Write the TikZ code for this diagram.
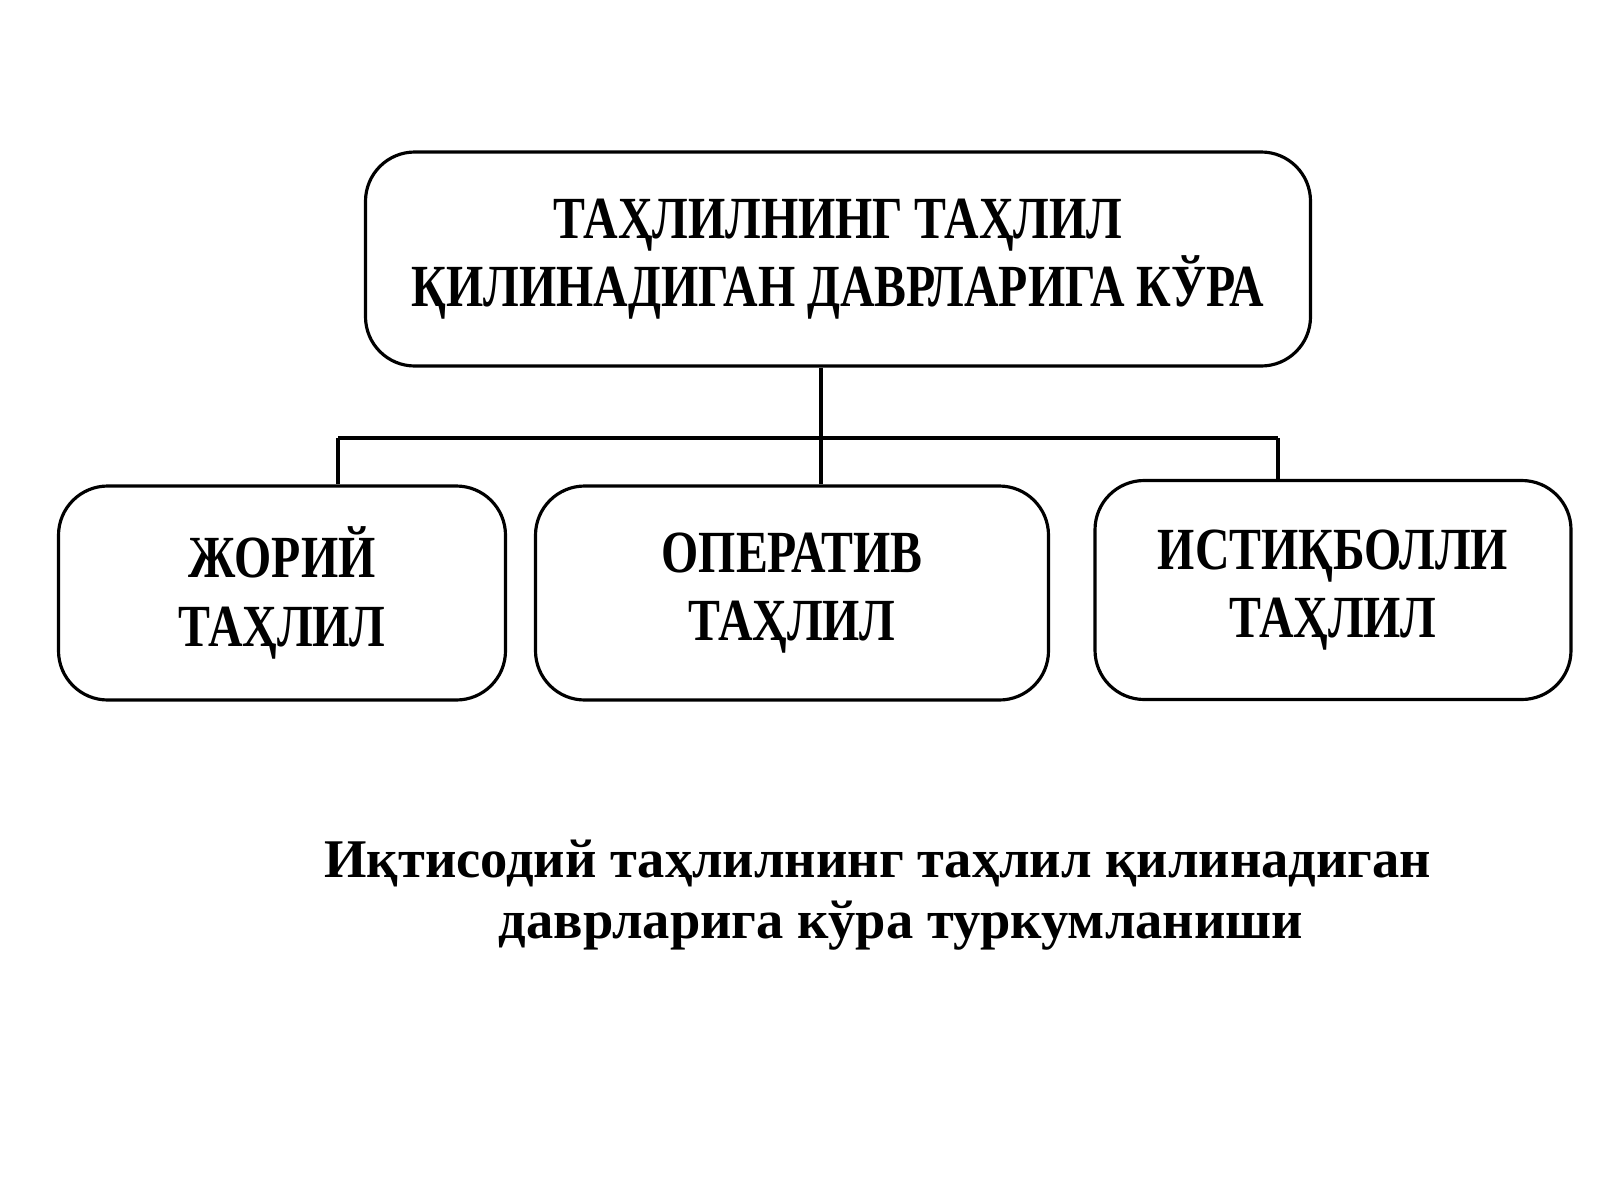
\documentclass[tikz,border=0pt]{standalone}
\usepackage{fontspec}
\setmainfont{Liberation Serif}
\newfontfamily\narrowfont[FakeStretch=0.8]{Liberation Serif}
\usetikzlibrary{positioning}
\begin{document}
\begin{tikzpicture}[x=0.01cm,y=-0.01cm,thick,
	box/.style={draw,rounded corners=14pt,line width=0.9pt,align=center,
		font=\narrowfont\bfseries\fontsize{17}{19.5}\selectfont},
	link/.style={line width=0.9pt}]
	\useasboundingbox (0,0) rectangle (1600,1200);
	%boxes
	\node[box,minimum width=945*0.01cm,minimum height=214*0.01cm] (top) at (838,259) {ТАҲЛИЛНИНГ ТАҲЛИЛ\\ҚИЛИНАДИГАН ДАВРЛАРИГА КЎРА};
	\node[box,minimum width=447*0.01cm,minimum height=214*0.01cm] (cur) at (282,593) {ЖОРИЙ\\ТАҲЛИЛ};
	\node[box,minimum width=513*0.01cm,minimum height=214*0.01cm] (oper) at (792,593) {ОПЕРАТИВ\\ТАҲЛИЛ};
	\node[box,minimum width=476*0.01cm,minimum height=219*0.01cm] (pers) at (1333,590) {ИСТИҚБОЛЛИ\\ТАҲЛИЛ};
	%connectors
	\coordinate (busm) at (821,438);
	\coordinate (busl) at (338,438);
	\coordinate (busr) at (1278,438);
	\draw[link] (top.south -| busm) -- (busm);
	\draw[link] (busl) -- (busr);
	\draw[link] (busl) -- (busl |- cur.north);
	\draw[link] (busm) -- (busm |- oper.north);
	\draw[link] (busr) -- (busr |- pers.north);
	%caption
	\node[font=\bfseries\fontsize{15.5}{17.5}\selectfont,align=left] (cap) at (878,895) {Иқтисодий таҳлилнинг таҳлил қилинадиган\\\hspace{3.2em}даврларига кўра туркумланиши};
\end{tikzpicture}
\end{document}
